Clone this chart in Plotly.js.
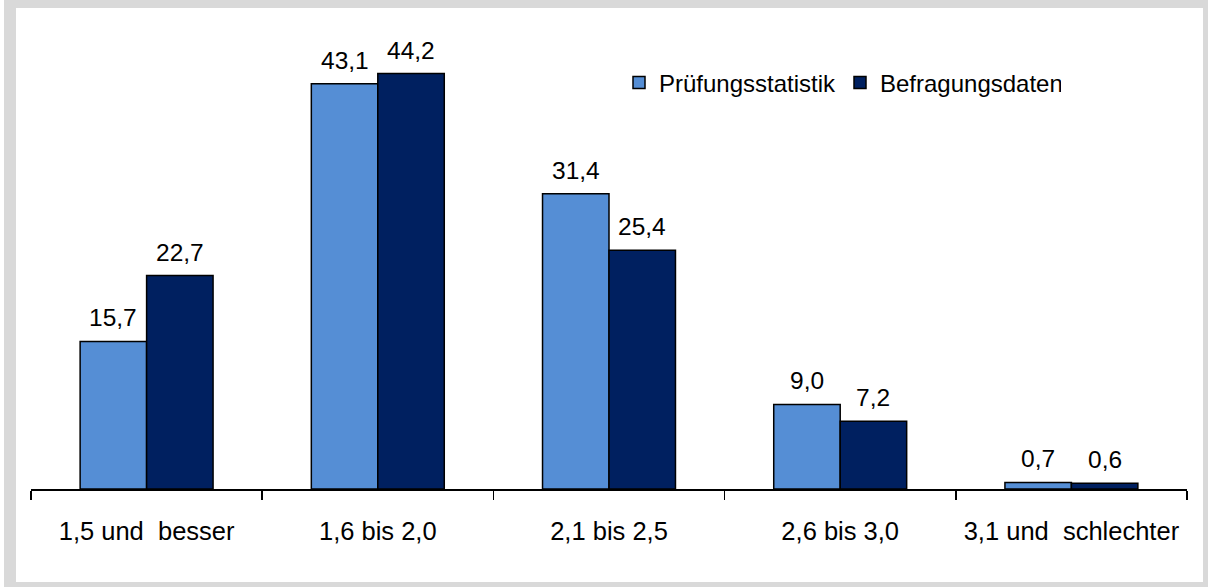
<!DOCTYPE html>
<html>
<head>
<meta charset="utf-8">
<script src="https://cdn.plot.ly/plotly-3.0.1.min.js"></script>
<style>
html,body{margin:0;padding:0;background:#fff;}
#chart{width:1208px;height:587px;}
</style>
</head>
<body>
<div id="chart"></div>
<script>
var categories = ["1,5 und  besser", "1,6 bis 2,0", "2,1 bis 2,5", "2,6 bis 3,0", "3,1 und  schlechter"];
var seriesNames = ["Prüfungsstatistik", "Befragungsdaten"];
var pruefung = [15.7, 43.1, 31.4, 9.0, 0.7];
var befragung = [22.7, 44.2, 25.4, 7.2, 0.6];

var FONT = "Liberation Sans, Arial, Helvetica, sans-serif";
var colors = ["#558ed5", "#002060"];
var seriesVals = [pruefung, befragung];

var traces = seriesVals.map(function(vals, k){
  return {
    type: "bar",
    name: seriesNames[k],
    x: categories,
    y: vals,
    marker: {color: colors[k], line: {color: "#000", width: 1.5}},
    hoverinfo: "skip"
  };
});

var W = 1156, H = 470;
var barW = 0.575 / 2;
var annotations = [];
seriesVals.forEach(function(vals, k){
  vals.forEach(function(v, i){
    annotations.push({
      x: i + (k === 0 ? -barW/2 : barW/2),
      y: v,
      xref: "x", yref: "y",
      text: v.toFixed(1).replace(".", ","),
      showarrow: false,
      yanchor: "bottom",
      yshift: 8,
      font: {family: FONT, size: 24.5, color: "#000"}
    });
  });
});

var layout = {
  width: 1208, height: 587,
  margin: {l: 31, r: 21, t: 19, b: 98, pad: 0},
  paper_bgcolor: "#fff",
  plot_bgcolor: "rgba(0,0,0,0)",
  separators: ",.",
  barmode: "group",
  bargap: 0.425,
  bargroupgap: 0,
  showlegend: true,
  legend: {
    orientation: "h",
    x: (619-31)/W, y: 1 - (83-19)/H, xanchor: "left", yanchor: "middle",
    font: {family: FONT, size: 24, color: "#000"},
    bgcolor: "rgba(0,0,0,0)",
    itemwidth: 30,
    entrywidth: 176,
    entrywidthmode: "pixels",
    tracegroupgap: 0
  },
  xaxis: {
    type: "category",
    range: [-0.5, 4.5],
    showline: true, linecolor: "#000", linewidth: 1.5,
    ticks: "outside", tickson: "boundaries", ticklen: 9, tickwidth: 1.5, tickcolor: "#000",
    ticklabelstandoff: 19,
    tickfont: {family: FONT, size: 25.5, color: "#000"},
    showgrid: false, zeroline: false, fixedrange: true
  },
  yaxis: {
    range: [0, 50],
    visible: false,
    showgrid: false, zeroline: false, fixedrange: true
  },
  shapes: [
    {type: "rect", xref: "paper", yref: "paper", layer: "below",
     x0: (4-31)/W, x1: (1208-31)/W, y0: -(587-489)/H, y1: 1 + 19/H,
     fillcolor: "#d9d9d9", line: {width: 0}},
    {type: "rect", xref: "paper", yref: "paper", layer: "below",
     x0: (16-31)/W, x1: (1203-31)/W, y0: -(582-489)/H, y1: 1 + (19-8)/H,
     fillcolor: "#fff", line: {width: 0}}
  ],
  annotations: annotations
};

Plotly.newPlot("chart", traces, layout, {displayModeBar: false, staticPlot: true});
</script>
</body>
</html>
